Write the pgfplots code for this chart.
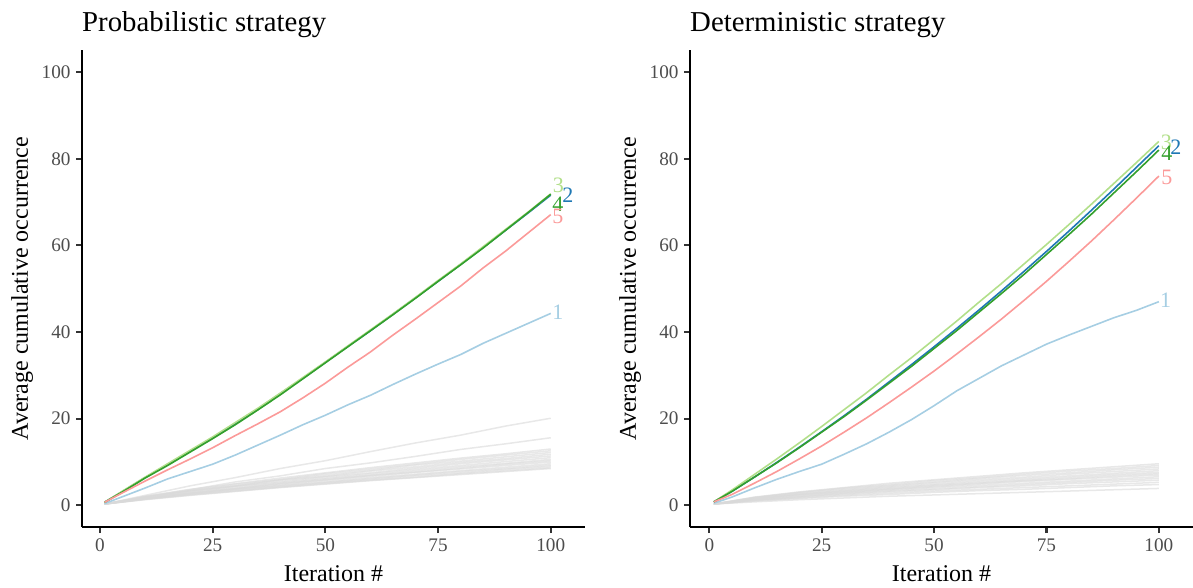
\documentclass[border=0pt]{standalone}
\usepackage{fontspec}
\setmainfont{Liberation Serif}
\usepackage{pgfplots}
\usepackage{pgfplotstable}
\pgfplotsset{compat=1.18}

\definecolor{c1}{HTML}{A6CEE3}
\definecolor{c2}{HTML}{1F78B4}
\definecolor{c3}{HTML}{B2DF8A}
\definecolor{c4}{HTML}{33A02C}
\definecolor{c5}{HTML}{FB9A99}
\definecolor{tickgrey}{HTML}{4D4D4D}
\definecolor{tickmark}{HTML}{333333}

\pgfplotstableread{
x a1 a2 a3 a4 a5
1 0.4 0.7 0.7 0.7 0.7
5 2.0 3.2 3.3 3.1 2.9
10 4.0 6.4 6.5 6.3 5.6
15 6.1 9.4 9.6 9.2 8.2
20 7.8 12.5 12.7 12.3 10.7
25 9.5 15.6 15.8 15.4 13.3
30 11.6 18.8 19.1 18.6 16.1
35 13.9 22.2 22.4 22.0 18.8
40 16.2 25.8 25.9 25.5 21.6
45 18.6 29.3 29.5 29.2 24.8
50 20.8 33.0 33.1 32.9 28.2
55 23.2 36.7 36.8 36.6 31.9
60 25.4 40.3 40.5 40.3 35.4
65 27.9 44.1 44.2 44.0 39.3
70 30.3 47.9 48.0 47.8 43.0
75 32.6 51.7 51.9 51.7 46.8
80 34.8 55.6 55.7 55.5 50.6
85 37.4 59.5 59.7 59.4 54.8
90 39.7 63.5 63.7 63.5 58.7
95 42.0 67.5 67.7 67.6 62.9
100 44.3 71.6 71.9 71.8 67.1
}\colL

\pgfplotstableread{
x b1 b2 b3 b4 b5
1 0.5 0.8 0.8 0.8 0.8
5 1.9 3.2 3.5 3.2 2.5
10 4.0 6.5 7.1 6.5 5.1
15 6.0 9.9 10.7 9.8 7.8
20 7.8 13.4 14.4 13.3 10.7
25 9.5 17.0 18.2 16.9 13.7
30 11.8 20.7 22.1 20.5 16.9
35 14.2 24.5 26.0 24.3 20.2
40 16.9 28.5 30.1 28.2 23.7
45 19.8 32.5 34.1 32.1 27.3
50 23.0 36.6 38.3 36.2 31.0
55 26.4 40.8 42.5 40.3 34.9
60 29.3 45.1 46.9 44.6 38.9
65 32.2 49.5 51.2 48.9 43.0
70 34.7 54.0 55.7 53.3 47.3
75 37.2 58.6 60.2 57.9 51.7
80 39.3 63.3 64.8 62.5 56.3
85 41.3 68.1 69.5 67.2 61.0
90 43.3 73.0 74.3 72.1 65.9
95 45.0 78.0 79.1 77.0 70.9
100 47.0 83.0 84.0 82.0 76.0
}\colR

\pgfplotstableread{
x g1 g2 g3 g4 g5 g6 g7 g8 g9 g10 g11 g12 g13 g14 g15 g16
1 0.3 0.3 0.3 0.3 0.3 0.3 0.3 0.3 0.3 0.3 0.3 0.3 0.3 0.3 0.3 0.3
10 2.3 2.0 2.1 2.0 1.9 1.9 1.8 1.7 1.7 1.6 1.6 1.5 1.5 1.4 1.4 1.3
20 4.5 3.6 3.7 3.4 3.4 3.3 3.2 3.0 2.9 2.8 2.8 2.6 2.6 2.5 2.4 2.3
30 6.4 5.4 5.0 4.9 4.6 4.5 4.4 4.3 4.0 3.9 3.8 3.7 3.6 3.4 3.3 3.2
40 8.5 6.8 6.3 6.0 5.9 5.8 5.5 5.3 5.1 5.0 4.8 4.6 4.5 4.3 4.2 4.1
50 10.3 8.5 7.5 7.3 7.0 6.7 6.6 6.3 6.1 5.9 5.8 5.5 5.3 5.2 5.0 4.9
60 12.4 9.8 8.7 8.4 8.1 7.9 7.5 7.3 7.0 6.9 6.7 6.4 6.2 6.0 5.8 5.7
70 14.4 11.3 9.8 9.5 9.3 8.9 8.6 8.3 8.0 7.7 7.6 7.2 7.0 6.8 6.5 6.4
80 16.2 12.9 10.9 10.6 10.2 9.9 9.6 9.2 8.9 8.6 8.4 8.0 7.8 7.5 7.3 7.1
90 18.3 14.2 11.9 11.6 11.2 10.8 10.5 10.1 9.7 9.5 9.2 8.8 8.5 8.3 8.0 7.8
100 20.1 15.6 13.0 12.6 12.2 11.8 11.4 11.0 10.6 10.3 10.0 9.6 9.3 9.0 8.7 8.5
}\greyL

\pgfplotstableread{
x h1 h2 h3 h4 h5 h6 h7 h8 h9 h10 h11 h12 h13 h14
1 0.3 0.3 0.3 0.3 0.3 0.3 0.3 0.3 0.3 0.3 0.3 0.3 0.3 0.3
10 1.9 1.8 1.8 1.7 1.6 1.5 1.5 1.4 1.3 1.2 1.2 1.1 1.0 0.8
20 3.1 3.0 2.9 2.7 2.6 2.5 2.4 2.3 2.1 2.0 1.9 1.7 1.6 1.3
30 4.1 4.0 3.8 3.6 3.4 3.3 3.1 3.0 2.8 2.7 2.5 2.3 2.1 1.7
40 5.1 4.8 4.6 4.4 4.2 4.0 3.8 3.7 3.5 3.3 3.1 2.8 2.5 2.1
50 5.9 5.7 5.4 5.2 4.9 4.7 4.5 4.3 4.1 3.8 3.6 3.3 3.0 2.4
60 6.7 6.4 6.2 5.9 5.6 5.3 5.1 4.9 4.6 4.3 4.1 3.7 3.4 2.7
70 7.5 7.2 6.9 6.5 6.2 5.9 5.7 5.5 5.1 4.8 4.5 4.1 3.7 3.0
80 8.2 7.9 7.5 7.2 6.8 6.5 6.2 6.0 5.6 5.3 5.0 4.5 4.1 3.3
90 8.9 8.5 8.2 7.8 7.4 7.1 6.8 6.5 6.1 5.8 5.4 4.9 4.5 3.6
100 9.6 9.2 8.8 8.4 8.0 7.6 7.3 7.0 6.6 6.2 5.8 5.3 4.8 3.9
}\greyR

\tikzset{
  lab/.style={font=\fontsize{22}{24}\selectfont, anchor=center},
  greyline/.style={line width=1.5pt, color=black!15, opacity=0.6},
  colline/.style={line width=1.6pt},
}

\pgfplotsset{
  panel/.style={
    scale only axis,
    width=503pt, height=476.6pt,
    ymin=-5, ymax=105,
    axis x line=bottom, axis y line=left,
    axis line style={-, line width=2.2pt, black},
    tick align=outside,
    major tick length=6pt,
    tick style={line width=2.2pt, color=tickmark},
    xtick={0,25,50,75,100},
    ytick={0,20,40,60,80,100},
    /pgf/number format/assume math mode=true,
    ticklabel style={font=\fontsize{19.2}{22}\selectfont, text=tickgrey},
    xticklabel style={yshift=-2pt},
    yticklabel style={xshift=-2pt},
    xlabel={Iteration \#},
    ylabel={Average cumulative occurrence},
    label style={font=\fontsize{24}{28}\selectfont},
    xlabel style={at={(axis description cs:0.5,0)}, anchor=base, yshift=-54pt},
    ylabel style={at={(axis description cs:-0.1074,0.5)}, anchor=base},
    title style={at={(axis description cs:0,1)}, anchor=base west, yshift=12.4pt, xshift=-3.3pt, font=\fontsize{28.8}{32}\selectfont},
    clip=false,
  },
}

\begin{document}
\begin{tikzpicture}
\path[use as bounding box] (0,0) rectangle (1193pt,587pt);

\begin{axis}[panel, at={(82pt,60pt)}, anchor=south west,
  xmin=-4.0, xmax=107.6,
  title={Probabilistic strategy}]
\pgfplotsinvokeforeach{1,...,16}{\addplot[greyline] table[x=x,y=g#1]{\greyL};}
\addplot[colline, c1] table[x=x,y=a1]{\colL};
\addplot[colline, c2] table[x=x,y=a2]{\colL};
\addplot[colline, c3] table[x=x,y=a3]{\colL};
\addplot[colline, c4] table[x=x,y=a4]{\colL};
\addplot[colline, c5] table[x=x,y=a5]{\colL};
\node[lab, text=c3] at (axis cs:101.7,73.8) {3};
\node[lab, text=c2] at (axis cs:103.8,71.6) {2};
\node[lab, text=c4] at (axis cs:101.6,69.5) {4};
\node[lab, text=c5] at (axis cs:101.6,66.8) {5};
\node[lab, text=c1] at (axis cs:101.6,44.5) {1};
\end{axis}

\begin{axis}[panel, at={(690pt,60pt)}, anchor=south west,
  xmin=-4.3, xmax=107.6,
  title={Deterministic strategy}]
\pgfplotsinvokeforeach{1,...,14}{\addplot[greyline] table[x=x,y=h#1]{\greyR};}
\addplot[colline, c1] table[x=x,y=b1]{\colR};
\addplot[colline, c2] table[x=x,y=b2]{\colR};
\addplot[colline, c3] table[x=x,y=b3]{\colR};
\addplot[colline, c4] table[x=x,y=b4]{\colR};
\addplot[colline, c5] table[x=x,y=b5]{\colR};
\node[lab, text=c3] at (axis cs:101.7,83.8) {3};
\node[lab, text=c2] at (axis cs:103.8,82.6) {2};
\node[lab, text=c4] at (axis cs:101.8,81.3) {4};
\node[lab, text=c5] at (axis cs:101.8,75.7) {5};
\node[lab, text=c1] at (axis cs:101.5,47.4) {1};
\end{axis}
\end{tikzpicture}
\end{document}
